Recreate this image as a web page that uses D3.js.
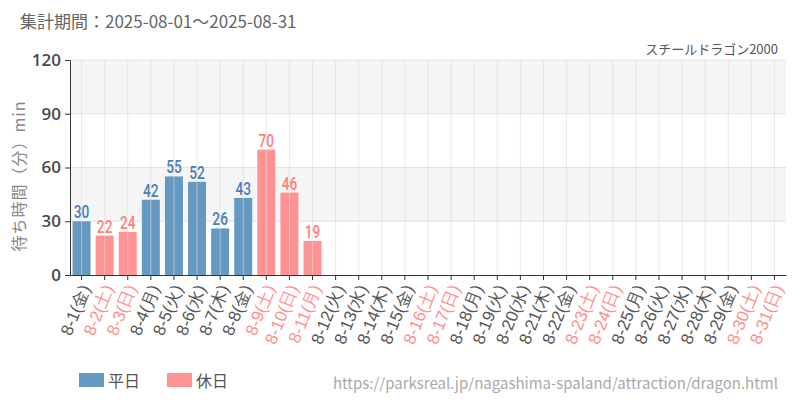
<!DOCTYPE html>
<html><head><meta charset="utf-8">
<script src="https://cdn.jsdelivr.net/npm/d3@7"></script>
<style>
body{margin:0;background:#fff;}
svg{display:block;font-family:"Noto Sans CJK JP","Noto Sans",sans-serif;}
</style></head>
<body>
<svg id="c" width="800" height="400"></svg>
<script>
const days = ["8-1","8-2","8-3","8-4","8-5","8-6","8-7","8-8","8-9","8-10","8-11","8-12","8-13","8-14","8-15","8-16","8-17","8-18","8-19","8-20","8-21","8-22","8-23","8-24","8-25","8-26","8-27","8-28","8-29","8-30","8-31"];
const weekdays = ["金","土","日","月","火","水","木","金","土","日","月","火","水","木","金","土","日","月","火","水","木","金","土","日","月","火","水","木","金","土","日"];
const holiday = [0,1,1,0,0,0,0,0,1,1,1,0,0,0,0,1,1,0,0,0,0,0,1,1,0,0,0,0,0,1,1];
const waits = [30,22,24,42,55,52,26,43,70,46,19,null,null,null,null,null,null,null,null,null,null,null,null,null,null,null,null,null,null,null,null];
const yTicks = [0,30,60,90,120];

const svg = d3.select("#c");
const L=70,R=786,T=60,B=275;
const x = d3.scaleBand().domain(days).range([L,R]).paddingInner(0.22).paddingOuter(0.11);
const y = d3.scaleLinear().domain([0,120]).range([B,T]);
const blue="#6699c2", pink="#ff9393", blueTxt="#4a80b8", pinkTxt="#ff7f7f";

const g = svg.append("g");
for(let i=0;i<yTicks.length-1;i++){
  g.append("rect").attr("x",L).attr("width",R-L)
    .attr("y",y(yTicks[i+1])).attr("height",y(yTicks[i])-y(yTicks[i+1]))
    .attr("fill", i%2===1 ? "#f5f5f5" : "#ffffff");
}
g.selectAll(".hg").data(yTicks.slice(1)).join("line")
  .attr("x1",L).attr("x2",R).attr("y1",d=>y(d)).attr("y2",d=>y(d))
  .attr("stroke","#e3e3e3").attr("stroke-width",1);

const idx = d3.range(days.length).filter(i=>waits[i]!=null);
svg.selectAll(".bar").data(idx).join("rect")
  .attr("x",i=>x(days[i])).attr("width",x.bandwidth())
  .attr("y",i=>y(waits[i])).attr("height",i=>B-y(waits[i]))
  .attr("fill",i=>holiday[i]?pink:blue);

svg.selectAll(".vg").data(days).join("line")
  .attr("x1",d=>x(d)+x.bandwidth()/2).attr("x2",d=>x(d)+x.bandwidth()/2)
  .attr("y1",T).attr("y2",B)
  .attr("stroke","#dcdcdc").attr("stroke-opacity",0.6).attr("stroke-width",1);

svg.selectAll(".vl").data(idx).join("text")
  .attr("transform",i=>`translate(${x(days[i])+x.bandwidth()/2},${y(waits[i])-3}) scale(0.72,1)`)
  .attr("text-anchor","middle")
  .style("font-family","'Roboto','Open Sans',sans-serif")
  .style("font-size","19px").style("font-weight","500")
  .attr("fill",i=>holiday[i]?pinkTxt:blueTxt)
  .text(i=>waits[i]);

const ya = svg.append("g").attr("transform",`translate(${L},0)`)
  .call(d3.axisLeft(y).tickValues(yTicks).tickSize(5).tickPadding(4));
ya.select(".domain").attr("stroke","#333");
ya.selectAll(".tick line").attr("stroke","#333");
ya.selectAll("text").style("font-family","'Open Sans',sans-serif").style("font-size","17px")
  .style("font-weight","600").attr("fill","#4a4a4a");

const xa = svg.append("g").attr("transform",`translate(0,${B})`)
  .call(d3.axisBottom(x).tickSize(5).tickSizeOuter(0).tickFormat(()=>""));
xa.select(".domain").attr("stroke","#333");
xa.selectAll(".tick line").attr("stroke","#333");
xa.selectAll(".tick").each(function(d,i){
  d3.select(this).append("text")
    .attr("transform","translate(5,11) rotate(-68)")
    .attr("text-anchor","end").attr("dominant-baseline","middle")
    .style("font-size","17px")
    .attr("fill",holiday[i]?"#ff8e8e":"#555")
    .text(days[i]+"("+weekdays[i]+")");
});

svg.append("text").attr("x",20).attr("y",28).style("font-size","17px").attr("fill","#666")
  .text("集計期間：2025-08-01～2025-08-31");
svg.append("text").attr("x",778).attr("y",54).attr("text-anchor","end").style("font-size","13px").attr("fill","#555")
  .text("スチールドラゴン2000");
svg.append("text").attr("transform",`translate(25,176) rotate(-90)`).attr("text-anchor","middle")
  .style("font-size","16px").style("letter-spacing","1px").attr("fill","#888").text("待ち時間（分）min");

svg.append("rect").attr("x",79).attr("y",373).attr("width",25).attr("height",14).attr("fill",blue);
svg.append("text").attr("x",108).attr("y",387).style("font-size","16px").attr("fill","#555").text("平日");
svg.append("rect").attr("x",167).attr("y",373).attr("width",25).attr("height",14).attr("fill",pink);
svg.append("text").attr("x",196).attr("y",387).style("font-size","16px").attr("fill","#555").text("休日");
svg.append("text").attr("x",778).attr("y",389).attr("text-anchor","end").style("font-size","15px").attr("fill","#aaa")
  .text("https://parksreal.jp/nagashima-spaland/attraction/dragon.html");
</script>
</body></html>
